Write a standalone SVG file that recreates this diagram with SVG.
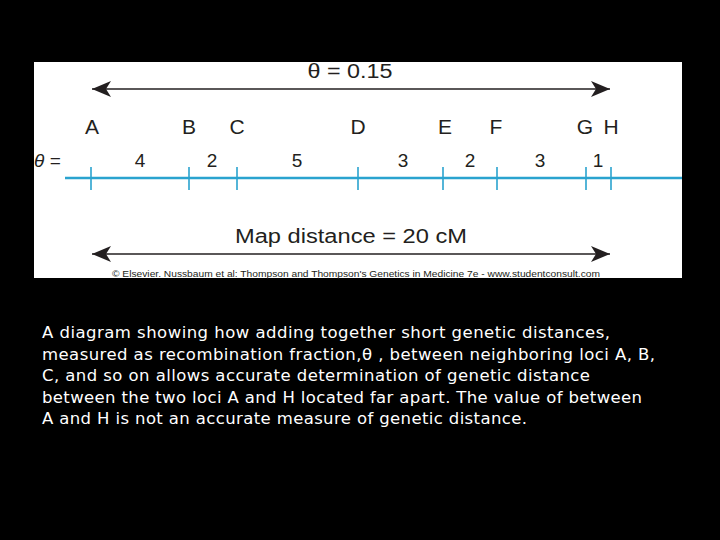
<svg xmlns="http://www.w3.org/2000/svg" width="720" height="540" viewBox="0 0 720 540">
<defs>
<marker id="ah" markerWidth="20" markerHeight="16" refX="19" refY="8" orient="auto-start-reverse" markerUnits="userSpaceOnUse">
<path d="M0,0 L19,8 L0,16 L5,8 Z" fill="#231f20"/>
</marker>
</defs>
<style>
.lab{font-family:"Liberation Sans",Arial,sans-serif;fill:#231f20;text-anchor:middle}
.loc{font-size:21px}
.num{font-size:19px}
.tick{stroke:#2aa3cf;stroke-width:1.6}
.cap{font-family:"DejaVu Sans",Verdana,sans-serif;font-size:16.5px;fill:#ffffff}
</style>
<rect width="720" height="540" fill="#000"/>
<rect x="34" y="62" width="648" height="216" fill="#fff"/>
<g id="connectors">
<line x1="92" y1="89" x2="610" y2="89" stroke="#231f20" stroke-width="1.6" marker-start="url(#ah)" marker-end="url(#ah)"/>
<line x1="92" y1="254" x2="610" y2="254" stroke="#231f20" stroke-width="1.6" marker-start="url(#ah)" marker-end="url(#ah)"/>
</g>
<g id="title"><text class="lab" x="350" y="78" font-size="20" textLength="85" lengthAdjust="spacingAndGlyphs">θ = 0.15</text></g>
<g id="axis">
<line x1="65" y1="178" x2="682" y2="178" stroke="#2aa3cf" stroke-width="2.4"/>
<line class="tick" x1="91" y1="167" x2="91" y2="190"/>
<line class="tick" x1="189" y1="167" x2="189" y2="190"/>
<line class="tick" x1="237" y1="167" x2="237" y2="190"/>
<line class="tick" x1="358" y1="167" x2="358" y2="190"/>
<line class="tick" x1="443" y1="167" x2="443" y2="190"/>
<line class="tick" x1="497" y1="167" x2="497" y2="190"/>
<line class="tick" x1="586" y1="167" x2="586" y2="190"/>
<line class="tick" x1="611" y1="167" x2="611" y2="190"/>
</g>
<g id="loci">
<text class="lab loc" x="92" y="134">A</text>
<text class="lab loc" x="189" y="134">B</text>
<text class="lab loc" x="237" y="134">C</text>
<text class="lab loc" x="358" y="134">D</text>
<text class="lab loc" x="445" y="134">E</text>
<text class="lab loc" x="496" y="134">F</text>
<text class="lab loc" x="585" y="134">G</text>
<text class="lab loc" x="611" y="134">H</text>
</g>
<g id="theta-values">
<text x="34" y="167" font-family="Liberation Sans,Arial,sans-serif" font-size="19" font-style="italic" fill="#231f20">θ =</text>
<text class="lab num" x="140" y="167">4</text>
<text class="lab num" x="212" y="167">2</text>
<text class="lab num" x="297" y="167">5</text>
<text class="lab num" x="403" y="167">3</text>
<text class="lab num" x="470" y="167">2</text>
<text class="lab num" x="540" y="167">3</text>
<text class="lab num" x="598" y="167">1</text>
</g>
<g id="map-distance"><text class="lab" x="351" y="243" font-size="20" textLength="232" lengthAdjust="spacingAndGlyphs">Map distance = 20 cM</text></g>
<g id="credit"><text class="lab" x="356" y="277" font-size="9.5" textLength="488" lengthAdjust="spacingAndGlyphs">© Elsevier. Nussbaum et al: Thompson and Thompson's Genetics in Medicine 7e - www.studentconsult.com</text></g>
<g id="caption">
<text class="cap" x="42" y="338" textLength="568" lengthAdjust="spacing">A diagram showing how adding together short genetic distances,</text>
<text class="cap" x="42" y="360" textLength="613" lengthAdjust="spacing">measured as recombination fraction,θ , between neighboring loci A, B,</text>
<text class="cap" x="42" y="381" textLength="548" lengthAdjust="spacing">C, and so on allows accurate determination of genetic distance</text>
<text class="cap" x="42" y="403" textLength="600" lengthAdjust="spacing">between the two loci A and H located far apart. The value of between</text>
<text class="cap" x="42" y="424" textLength="485" lengthAdjust="spacing">A and H is not an accurate measure of genetic distance.</text>
</g>
</svg>
